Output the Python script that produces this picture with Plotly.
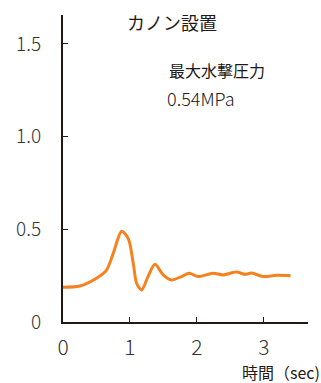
import plotly.graph_objects as go

time_sec = [0.0, 0.25, 0.5, 0.65, 0.75, 0.876, 0.975, 1.05, 1.1, 1.175, 1.27, 1.373, 1.5, 1.62,
            1.77, 1.885, 2.02, 2.24, 2.39, 2.59, 2.72, 2.82, 2.99, 3.19, 3.40]
pressure_mpa = [0.187, 0.194, 0.236, 0.28, 0.37, 0.49, 0.45, 0.316, 0.209, 0.173, 0.245, 0.311, 0.253, 0.227,
                0.245, 0.263, 0.245, 0.263, 0.254, 0.27, 0.257, 0.264, 0.245, 0.252, 0.25]
x_ticks = [0, 1, 2, 3]
y_ticks = [0, 0.5, 1.0, 1.5]
y_tick_labels = ["0", "0.5", "1.0", "1.5"]

FONT = "Noto Sans CJK JP"
fig = go.Figure()
fig.add_trace(go.Scatter(x=time_sec, y=pressure_mpa, mode="lines",
                         line=dict(color="#F5821F", width=3, shape="spline", smoothing=0.8),
                         hoverinfo="skip"))

fig.update_layout(
    width=321, height=383,
    margin=dict(l=63, r=13, t=15, b=61),
    paper_bgcolor="white", plot_bgcolor="white",
    showlegend=False,
    font=dict(family=FONT, color="#333333"),
    xaxis=dict(range=[0, 3.66], tickvals=x_ticks, ticktext=[str(v) for v in x_ticks],
               showgrid=False, zeroline=False, showline=True, linecolor="#231815", linewidth=2,
               ticks="inside", ticklen=5, tickwidth=1, tickcolor="#231815", automargin=False,
               tickfont=dict(size=21, color="#333333", family=FONT, weight=300), ticklabelstandoff=6),
    yaxis=dict(range=[0, 1.656], tickvals=y_ticks, ticktext=y_tick_labels,
               showgrid=False, zeroline=False, showline=True, linecolor="#231815", linewidth=2,
               ticks="inside", ticklen=5, tickwidth=1, tickcolor="#231815", automargin=False,
               tickfont=dict(size=19, color="#333333", family=FONT, weight=300), ticklabelstandoff=16),
    annotations=[
        dict(text="カノン設置", xref="paper", yref="paper", x=(172 - 63) / 245, y=(322 - 22) / 307,
             xanchor="center", yanchor="middle", showarrow=False, font=dict(size=18, family=FONT, color="#231815")),
        dict(text="最大水撃圧力", xref="paper", yref="paper", x=(167 - 63) / 245, y=(322 - 70) / 307,
             xanchor="left", yanchor="middle", showarrow=False, font=dict(size=16, family=FONT, color="#231815")),
        dict(text="0.54MPa", xref="paper", yref="paper", x=(165 - 63) / 245, y=(322 - 98) / 307,
             xanchor="left", yanchor="middle", showarrow=False, font=dict(size=18, family=FONT, color="#231815", weight=300)),
        dict(text="時間（sec)", xref="paper", yref="paper", x=(322 - 63) / 245, y=(322 - 372) / 307,
             xanchor="right", yanchor="middle", showarrow=False, font=dict(size=16, family=FONT, color="#231815")),
    ],
)

fig.write_html("out.html", config={"displayModeBar": False},
               post_script="document.body.style.margin='0';document.body.style.padding='0';")
